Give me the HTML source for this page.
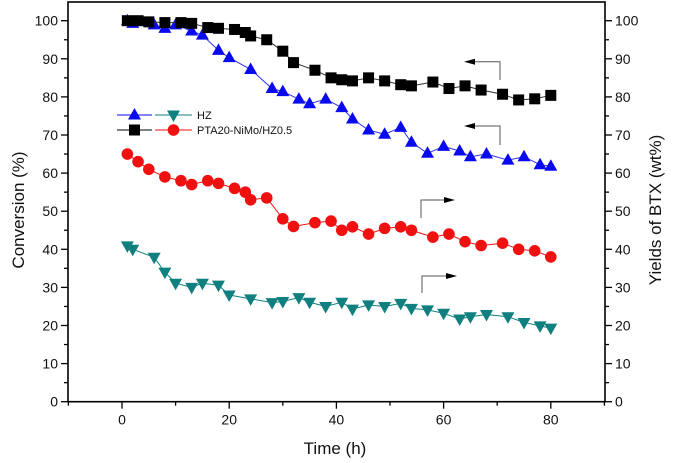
<!DOCTYPE html>
<html><head><meta charset="utf-8"><style>
html,body{margin:0;padding:0;background:#fff;}
svg{display:block;font-family:"Liberation Sans",Arial,sans-serif;}
</style></head><body>
<svg id="chart" width="675" height="463" viewBox="0 0 675 463"></svg>
<script>
const squareHours = [1,3,5,8,11,13,16,18,21,23,24,27,30,32,36,39,41,43,46,49,52,54,58,61,64,67,71,74,77,80];
const squareValues = [100,100,99.7,99.5,99.5,99.3,98.2,98,97.7,96.9,96,95,92,89,87,85,84.5,84.2,85,84.2,83.2,82.9,83.9,82.2,82.9,81.8,80.7,79.2,79.5,80.4];
const triHours = [1,2,6,8,10,13,15,18,20,24,28,30,33,35,38,41,43,46,49,52,54,57,60,63,65,68,72,75,78,80];
const triValues = [100,99.3,98.9,98,98.9,97.3,96.2,92.2,90.3,87.2,82.2,81.4,79.4,78.2,79.4,77.2,74.2,71.3,70.2,72,68.1,65.2,67,65.8,64.3,65,63.4,64.3,62.2,61.8];
const circleHours = [1,3,5,8,11,13,16,18,21,23,24,27,30,32,36,39,41,43,46,49,52,54,58,61,64,67,71,74,77,80];
const circleValues = [65,63,61,59,58,57,58,57.3,56,55,53,53.5,48,46,47,47.4,45,45.9,44,45.5,45.9,45,43.2,44,42,41,41.6,40,39.6,38];
const invHours = [1,2,6,8,10,13,15,18,20,24,28,30,33,35,38,41,43,46,49,52,54,57,60,63,65,68,72,75,78,80];
const invValues = [40.9,40,37.9,34,31.1,30,31.1,30.6,28,27,26,26.3,27.3,26.1,25,26.1,24.3,25.4,25,25.8,24.5,24.1,23.2,21.7,22.3,22.9,22.3,20.8,19.9,19.3];
const xTicks = [0,20,40,60,80];
const yTicks = [0,10,20,30,40,50,60,70,80,90,100];

const NS="http://www.w3.org/2000/svg";
const svg=document.getElementById('chart');
const X0=68,X1=605,Y0=401.7,YT=2;
function xs(h){return 122+(h)*5.36;}
function ys(v){return 401.7-v*3.81;}
function mk(tag,attrs,parent){const e=document.createElementNS(NS,tag);for(const k in attrs)e.setAttribute(k,attrs[k]);(parent||svg).appendChild(e);return e;}

// frame
const frame=mk('rect',{x:X0,y:YT,width:X1-X0,height:Y0-YT,fill:'none',stroke:'#000','stroke-width':1.6});



// y ticks left and right
for(let v=0;v<=100;v+=5){
  const major=v%10===0;const L=major?7:4;
  const t1=mk('line',{x1:X0-L,x2:X0,y1:ys(v),y2:ys(v),stroke:'#000','stroke-width':1.3});
  
  
  const t2=mk('line',{x1:X1,x2:X1+L,y1:ys(v),y2:ys(v),stroke:'#000','stroke-width':1.3});
  
  
}
yTicks.forEach(v=>{
  const a=mk('text',{x:X0-10,y:ys(v)+5,'text-anchor':'end','font-size':14,fill:'#111'});a.textContent=v;
  
  
  const b=mk('text',{x:X1+10,y:ys(v)+5,'text-anchor':'start','font-size':14,fill:'#111'});b.textContent=v;
  
  
});
// x ticks
for(let h=-10;h<=90;h+=10){
  const major=h%20===0;const L=major?7:4;
  const t=mk('line',{x1:xs(h),x2:xs(h),y1:Y0,y2:Y0+L,stroke:'#000','stroke-width':1.3});
  
  
}
xTicks.forEach(h=>{
  const a=mk('text',{x:xs(h),y:Y0+23,'text-anchor':'middle','font-size':14,fill:'#111'});a.textContent=h;
  
  
});
// axis titles
let t=mk('text',{x:335,y:454,'text-anchor':'middle','font-size':17,fill:'#111'});t.textContent='Time (h)';


t=mk('text',{x:0,y:0,'text-anchor':'middle','font-size':17,fill:'#111',transform:'translate(24,210) rotate(-90)'});t.textContent='Conversion (%)';


t=mk('text',{x:0,y:0,'text-anchor':'middle','font-size':17,fill:'#111',transform:'translate(661,210) rotate(-90)'});t.textContent='Yields of BTX (wt%)';



function marker(type,cx,cy,color,g){
  let e;
  if(type==='sq') e=mk('rect',{x:cx-5.5,y:cy-5.5,width:11,height:11,fill:color},g);
  else if(type==='ci') e=mk('circle',{cx:cx,cy:cy,r:5.8,fill:color},g);
  else if(type==='up') e=mk('polygon',{points:`${cx},${cy-7} ${cx-6.5},${cy+4.5} ${cx+6.5},${cy+4.5}`,fill:color},g);
  else e=mk('polygon',{points:`${cx},${cy+7} ${cx-6.5},${cy-4.5} ${cx+6.5},${cy-4.5}`,fill:color},g);
  return e;
}
function series(name,hours,vals,type,color,lineColor){
  const g=mk('g',{});
  
  
  const pts=hours.map((h,i)=>xs(h)+','+ys(vals[i])).join(' ');
  mk('polyline',{points:pts,fill:'none',stroke:lineColor,'stroke-width':1},g);
  hours.forEach((h,i)=>{
    const m=marker(type,xs(h),ys(vals[i]),color,g);
    
    
  });
}
series('hz-btx-yield',invHours,invValues,'dn','#0f7f7f','#0f7f7f');
series('pta-btx-yield',circleHours,circleValues,'ci','#f01010','#f01010');
series('hz-conversion',triHours,triValues,'up','#0a0af0','#3030f0');
series('pta-conversion',squareHours,squareValues,'sq','#000','#333');

// arrows
function arrow(name,vx,vy1,vy2,hx,dir){
  const g=mk('g',{});
  
  
  mk('polyline',{points:`${vx},${vy1} ${vx},${vy2} ${hx},${vy2}`,fill:'none',stroke:'#555','stroke-width':1},g);
  if(dir<0) mk('polygon',{points:`${hx-2},${vy2} ${hx+9},${vy2-3} ${hx+9},${vy2+3}`,fill:'#000'},g);
  else mk('polygon',{points:`${hx+2},${vy2} ${hx-9},${vy2-3} ${hx-9},${vy2+3}`,fill:'#000'},g);
}
arrow('arrow-pta-conversion',500,80,61.7,466,-1);
arrow('arrow-hz-conversion',500,145,126,466,-1);
arrow('arrow-pta-yield',421,218,200,453,1);
arrow('arrow-hz-yield',422,293,276,455,1);

// legend
const lg=mk('g',{});


function legRow(y,c1,t1,c2,t2,label){
  mk('line',{x1:117,x2:152,y1:y,y2:y,stroke:c1,'stroke-width':1},lg);
  marker(t1,134.5,y,c1,lg);
  mk('line',{x1:155,x2:192,y1:y,y2:y,stroke:c2,'stroke-width':1},lg);
  marker(t2,173.5,y,c2,lg);
  const tx=mk('text',{x:197,y:y+4,'font-size':11,fill:'#111'},lg);tx.textContent=label;
  
  
}
legRow(115,'#0a0af0','up','#0f7f7f','dn','HZ');
legRow(130,'#000','sq','#f01010','ci','PTA20-NiMo/HZ0.5');
</script>
</body></html>
